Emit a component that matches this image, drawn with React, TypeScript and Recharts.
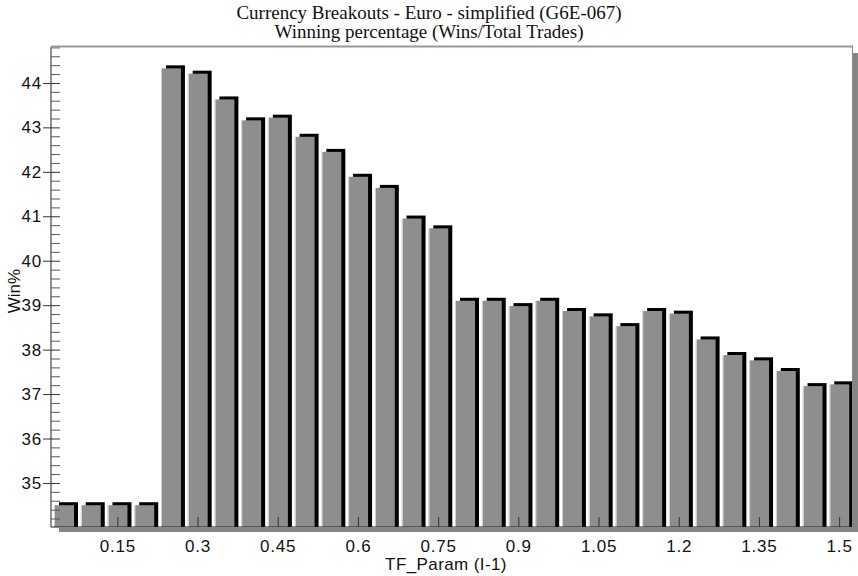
import React from 'react';
import { BarChart, Bar, XAxis, YAxis } from 'recharts';

// TF_Param values (x categories)
const tfParam = [
  0.05, 0.1, 0.15, 0.2, 0.25, 0.3, 0.35, 0.4, 0.45, 0.5,
  0.55, 0.6, 0.65, 0.7, 0.75, 0.8, 0.85, 0.9, 0.95, 1.0,
  1.05, 1.1, 1.15, 1.2, 1.25, 1.3, 1.35, 1.4, 1.45, 1.5,
];

// Win% per TF_Param
const winPct = [
  34.51, 34.51, 34.51, 34.51, 44.34, 44.22, 43.64, 43.17, 43.23, 42.8,
  42.46, 41.9, 41.65, 40.96, 40.74, 39.11, 39.11, 38.99, 39.11, 38.88,
  38.76, 38.54, 38.88, 38.82, 38.24, 37.89, 37.77, 37.53, 37.19, 37.23,
];

const xTickLabels = [0.15, 0.3, 0.45, 0.6, 0.75, 0.9, 1.05, 1.2, 1.35, 1.5];
const yMajorTicks = [35, 36, 37, 38, 39, 40, 41, 42, 43, 44];
const yDomain: [number, number] = [34.02, 44.82];

const data = tfParam.map((x, i) => ({ x, win: winPct[i] }));

// every 0.2 between domain bounds, majors included
const yAllTicks: number[] = [];
for (let v = 342; v <= 448; v += 2) yAllTicks.push(v / 10);

const W = 858;
const H = 576;
const PLOT_L = 51;
const PLOT_R = 853;
const PLOT_T = 47;
const PLOT_B = 527;

const sans = '"Liberation Sans", Arial, sans-serif';
const serif = '"Liberation Serif", "Times New Roman", serif';

const ShadowBar = (props: any) => {
  const { x, y, width, height } = props;
  if (height == null || height <= 0) return null;
  return (
    <g>
      <rect x={x + 4} y={y - 3} width={width} height={height + 3} fill="#000" />
      <rect x={x} y={y} width={width} height={height} fill="#8e8e8e" />
      <line x1={x - 0.5} y1={y} x2={x - 0.5} y2={y + height} stroke="#cfcfcf" strokeWidth={1} />
    </g>
  );
};

const YTick = (props: any) => {
  const { x, y, payload } = props;
  const v = Math.round(payload.value * 10) / 10;
  const major = yMajorTicks.includes(v);
  return (
    <g>
      {major ? (
        <>
          <line x1={x - 8} y1={y} x2={x + 9} y2={y} stroke="#333" />
          <text x={x - 9} y={y} textAnchor="end" dominantBaseline="central"
            fontFamily={sans} fontSize={17} letterSpacing={0.8} fill="#111">{v}</text>
        </>
      ) : (
        <line x1={x} y1={y} x2={x + 9} y2={y} stroke="#555" />
      )}
    </g>
  );
};

const XTick = (props: any) => {
  const { x, y, payload } = props;
  if (!xTickLabels.includes(payload.value)) return null;
  return (
    <g>
      <line x1={x} y1={y - 10} x2={x} y2={y} stroke="#333" />
      <text x={x} y={y + 19} textAnchor="middle" dominantBaseline="central"
        fontFamily={sans} fontSize={17} letterSpacing={0.8} fill="#111">{String(payload.value)}</text>
    </g>
  );
};

export default function App() {
  return (
    <div style={{ position: 'absolute', left: 0, top: 0, width: W, height: H, background: '#fff' }}>
      <BarChart
        width={W}
        height={H}
        data={data}
        margin={{ top: PLOT_T, right: W - PLOT_R, bottom: 0, left: 0 }}
      >
        <XAxis
          dataKey="x"
          type="category"
          height={H - PLOT_B}
          interval={0}
          tickSize={0}
          tickMargin={0}
          tick={<XTick />}
          axisLine={{ stroke: '#222', strokeWidth: 1 }}
        />
        <YAxis
          width={PLOT_L}
          domain={yDomain}
          ticks={yAllTicks}
          interval={0}
          allowDataOverflow
          tickSize={0}
          tickMargin={0}
          tick={<YTick />}
          axisLine={{ stroke: '#222', strokeWidth: 1 }}
        />
        <Bar dataKey="win" barSize={19} shape={<ShadowBar />} isAnimationActive={false} />
      </BarChart>

      {/* frame, drop shadow, titles */}
      <svg width={W} height={H} style={{ position: 'absolute', left: 0, top: 0, pointerEvents: 'none' }}>
        <line x1={PLOT_L} y1={PLOT_T - 0.5} x2={PLOT_R} y2={PLOT_T - 0.5} stroke="#999" strokeWidth={2} />
        <line x1={PLOT_R - 0.5} y1={PLOT_T - 1} x2={PLOT_R - 0.5} y2={PLOT_B} stroke="#888" strokeWidth={1} />
        <rect x={PLOT_R} y={PLOT_T + 6} width={W - PLOT_R} height={PLOT_B + 5 - PLOT_T - 6} fill="#858585" />
        <rect x={PLOT_L + 8} y={PLOT_B} width={W - PLOT_L - 8} height={5} fill="#858585" />
        <text x={429} y={12} textAnchor="middle" dominantBaseline="central"
          fontFamily={serif} fontSize={19} fill="#111">
          Currency Breakouts - Euro - simplified (G6E-067)
        </text>
        <text x={429} y={31} textAnchor="middle" dominantBaseline="central"
          fontFamily={serif} fontSize={19} fill="#111">
          Winning percentage (Wins/Total Trades)
        </text>
        <text x={446} y={564} textAnchor="middle" dominantBaseline="central"
          fontFamily={sans} fontSize={17} letterSpacing={0.4} fill="#111">
          TF_Param (I-1)
        </text>
        <text x={14} y={291} textAnchor="middle" dominantBaseline="central"
          transform="rotate(-90 14 291)" fontFamily={sans} fontSize={17} fill="#111">
          Win%
        </text>
      </svg>
    </div>
  );
}
